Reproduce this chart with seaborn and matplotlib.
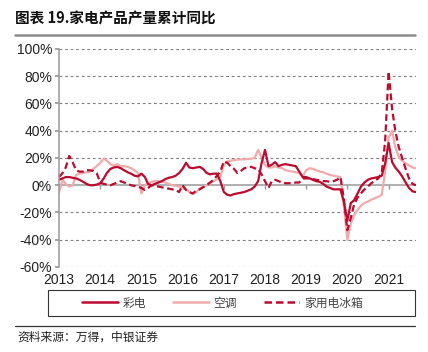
import numpy as np
import pandas as pd
import matplotlib
matplotlib.use("Agg")
import matplotlib.pyplot as plt
import seaborn as sns
from matplotlib.ticker import FuncFormatter
from matplotlib.lines import Line2D
from matplotlib.patches import Rectangle

# --- DATA (monthly from 2013-01) ---
tv = [4, 5, 6, 6, 5.5, 5, 4, 2.6, 1, 0, 0, 0.5,
      1.5, 5, 9, 12, 13, 13.5, 12.5, 11, 9.5, 8.5, 7, 6.5,
      8.5, 6, 1, 0, 1, 2, 3, 4.5, 5.5, 6, 7, 9,
      12, 16.5, 13, 12.5, 13, 13.5, 12, 9, 8, 8.5, 8.5, 3,
      -5, -7, -7.5, -6.5, -6, -5.5, -5, -4, -3, -1, 3, 16,
      26, 14, 15, 17, 14, 15, 15.5, 15, 14.5, 14, 10, 6,
      6, 5, 4, 3, 2.5, 1, -1, -2, -3, -3, -3, -12,
      -26, -13, -11, -6, -1, 2, 4, 5, 5.5, 6, 7, 16,
      31, 17, 13, 10, 6.5, 2, -2, -4.5, -5]
ac = [-5, 4, 1, -1, 0, 7.5, 8.5, 9, 9.5, 10, 12, 14,
      16.5, 19.5, 18, 15.5, 14.5, 15.5, 14, 14, 13.5, 12.5, 11, 9,
      -6, 0, 1.5, 2.5, 3, 3, 2.5, 2, 1, 0, -0.5, -1,
      -2, -3, -5, -6.5, -5, -2.5, -1, 0, 1.5, 3, 4.5, 6,
      15, 17.5, 18, 18.5, 18.8, 19, 19, 19.3, 19.5, 20, 26, 20,
      15, 13, 13, 14, 13, 12.5, 11, 10.5, 10, 9.5, 8.8, 6.5,
      11, 12.5, 12, 11, 10, 9.5, 8.5, 7.5, 7, 6.5, 6, -15,
      -40, -28, -22, -18, -15, -13, -12, -10.5, -9.5, -8.5, -7, 10,
      35, 40, 28, 21, 18, 16, 14.5, 13, 12.5]
fridge = [6, 9, 13, 21.5, 17, 11, 10, 10, 11, 11, 10.5, 8.8,
          2, 1, 0.5, 0, 1, 2, 3, 2, 1, 0, -0.5, -1,
          -2, -3.5, -2, 0, -0.5, -1, -1.5, -2, -2.5, -3, -3.5, -5,
          0, -3.5, -5, -6, -4, -3, -1.5, 0, 2, 4, 7, 10,
          17.5, 16.5, 14, 12, 9, 10.5, 12.5, 13, 13.5, 12.5, 12, 8,
          3, -2, 3, 4, 3, 2, 1.5, 1.5, 1.5, 2, 2, 5,
          5, 5, 4.5, 4, 3.5, 3, 3, 2.5, 3, 4, 6, -10,
          -33, -24, -14, -9, -6, -3, -1, 1.5, 3.5, 5, 9, 32,
          83.5, 56, 40, 28, 20, 12, 5, 1, 0]
years = list(range(2013, 2022))
y_ticks = [-60, -40, -20, 0, 20, 40, 60, 80, 100]
labels = ['彩电', '空调', '家用电冰箱']

DARK = '#BE0A2E'
PINK = '#F2AAAA'
GRID = '#7F7F7F'
CJK = ['Noto Sans CJK SC', 'DejaVu Sans']
LAT = ['Liberation Sans', 'DejaVu Sans']

dates = pd.date_range('2013-01-01', periods=len(tv), freq='MS')
df = pd.DataFrame({'date': dates, 'tv': tv, 'ac': ac, 'fridge': fridge})

sns.set_theme(style='white')
plt.rcParams['font.family'] = CJK

fig = plt.figure(figsize=(4.28, 3.52), dpi=100)
ax = fig.add_axes([0.138, 0.2415, 0.834, 0.6193])

# --- LINES ---
sns.lineplot(data=df, x='date', y='ac', ax=ax, color=PINK, linewidth=1.6)
sns.lineplot(data=df, x='date', y='tv', ax=ax, color=DARK, linewidth=1.6)
sns.lineplot(data=df, x='date', y='fridge', ax=ax, color=DARK, linewidth=1.6,
             linestyle=(0, (3, 1.6)))

# --- AXES STYLE ---
year_dates = [pd.Timestamp(f'{y}-01-01') for y in years]
ax.set_xlim(dates[0], dates[-1])
ax.set_ylim(-60, 100)
ax.set_yticks(y_ticks)
ax.yaxis.set_major_formatter(FuncFormatter(lambda v, p: f'{v:.0f}%'))
for v in y_ticks:
    if v != 0:
        ax.axhline(v, color=GRID, lw=0.8, ls=(0, (2.5, 2.5)), zorder=0)
ax.axhline(0, color='#999999', lw=1.1, zorder=1)
ax.vlines(year_dates, -3, 0, color='#999999', lw=1.0, zorder=1)
ax.set_xticks(year_dates)
ax.set_xticklabels([str(y) for y in years])
for s in ['top', 'right', 'bottom']:
    ax.spines[s].set_visible(False)
ax.spines['left'].set_color('#999999')
ax.spines['left'].set_linewidth(1.1)
ax.tick_params(axis='y', left=True, length=3, color='#999999', pad=2,
               labelsize=10, labelcolor='#222222')
ax.tick_params(axis='x', bottom=False, length=0, pad=4,
               labelsize=10, labelcolor='#222222')
for t in ax.get_xticklabels() + ax.get_yticklabels():
    t.set_family(LAT)
ax.set_xlabel('')
ax.set_ylabel('')
ax.set_facecolor('none')

# --- LEGEND ---
fig.patches.append(Rectangle((0.112, 0.102), 0.858, 0.074, transform=fig.transFigure,
                             fill=False, edgecolor='#333333', lw=0.8))
handles = [Line2D([], [], color=DARK, lw=1.8),
           Line2D([], [], color=PINK, lw=1.8),
           Line2D([], [], color=DARK, lw=1.8, ls=(0, (3, 1.6)))]
fig.legend(handles, labels, loc='center', bbox_to_anchor=(0.52, 0.139), ncol=3,
           frameon=False, fontsize=8.5, handlelength=3.0, columnspacing=2.3,
           handletextpad=0.4, labelcolor='#444444')

# --- TITLE / SOURCE ---
fig.text(0.035, 0.948, '图表 19.家电产品产量累计同比', fontsize=10.5, fontweight='bold',
         va='center', ha='left', color='#111111')
fig.add_artist(Line2D([0.035, 0.97], [0.90, 0.90], transform=fig.transFigure,
                      color='#8C8C8C', lw=1.8))
fig.add_artist(Line2D([0.035, 0.97], [0.074, 0.074], transform=fig.transFigure,
                      color='#333333', lw=0.9))
fig.text(0.04, 0.043, '资料来源：万得，中银证券', fontsize=8.5, va='center', ha='left',
         color='#222222', style='italic')

fig.savefig('out.png', dpi=100)
